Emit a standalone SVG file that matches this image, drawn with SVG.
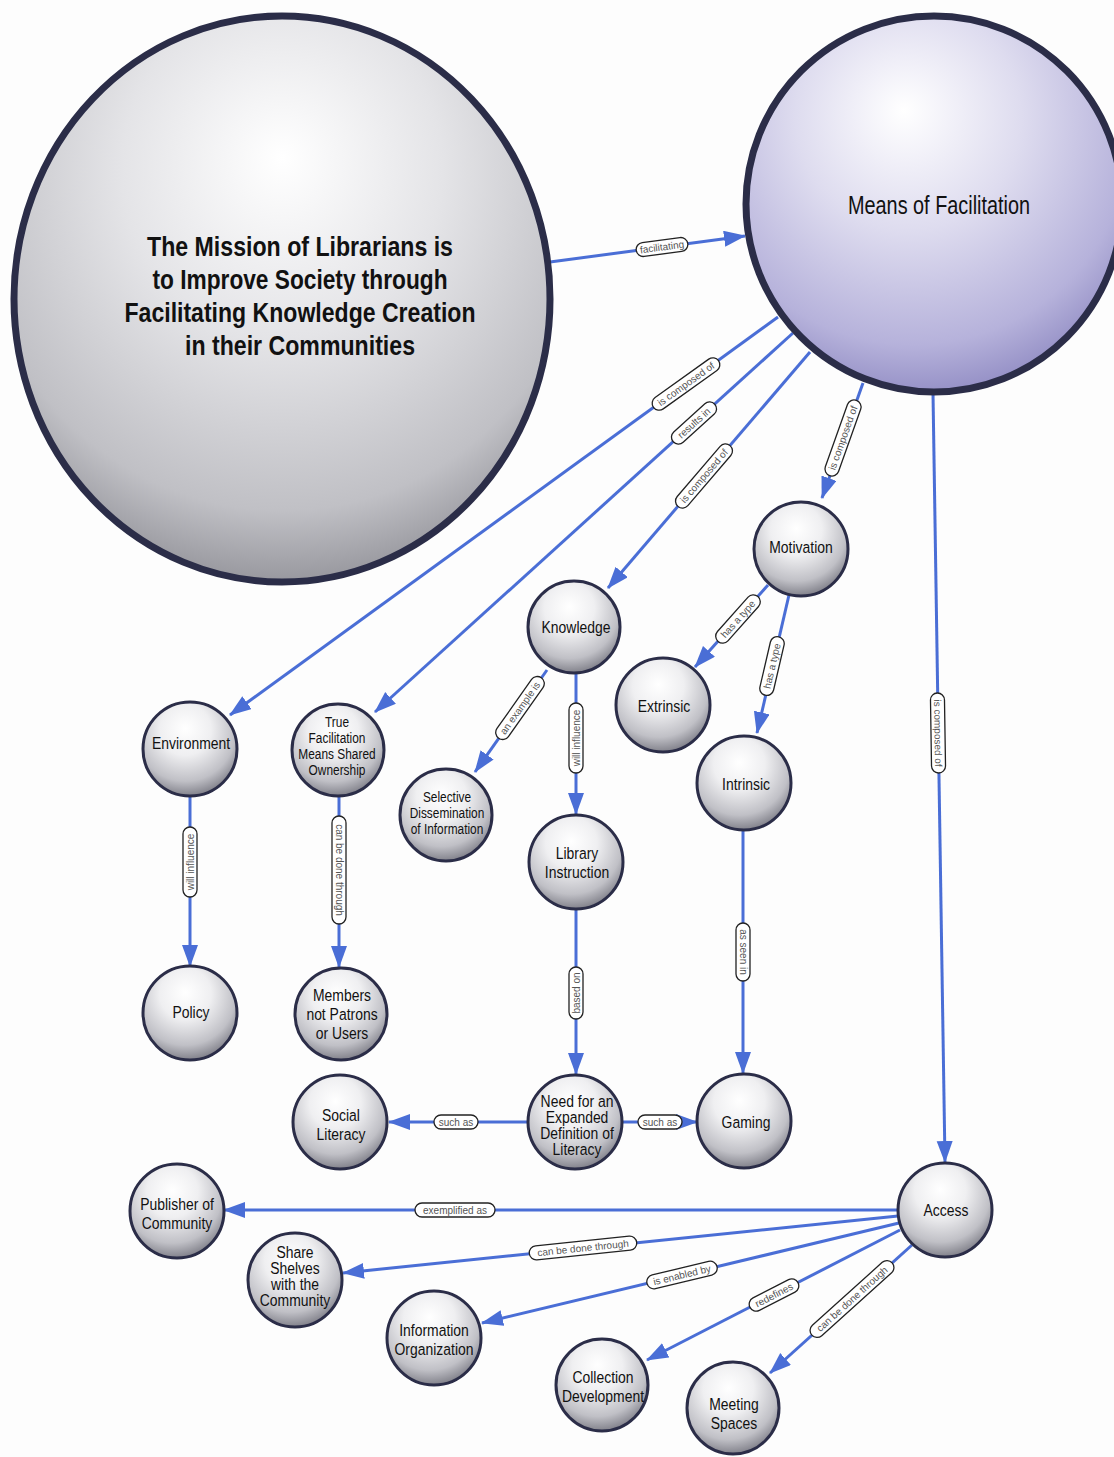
<svg xmlns="http://www.w3.org/2000/svg" width="1114" height="1457" viewBox="0 0 1114 1457">
<defs>
<radialGradient id="gNode" cx="0.45" cy="0.32" r="0.72" fx="0.45" fy="0.28">
<stop offset="0" stop-color="#ffffff"/>
<stop offset="0.38" stop-color="#efeff1"/>
<stop offset="0.74" stop-color="#c0c0c6"/>
<stop offset="1" stop-color="#72727c"/>
</radialGradient>
<radialGradient id="gMission" cx="0.5" cy="0.3" r="0.75" fx="0.5" fy="0.25">
<stop offset="0" stop-color="#ffffff"/>
<stop offset="0.4" stop-color="#e4e4e7"/>
<stop offset="0.78" stop-color="#c0c0c5"/>
<stop offset="1" stop-color="#88888f"/>
</radialGradient>
<radialGradient id="gMeans" cx="0.45" cy="0.3" r="0.75" fx="0.42" fy="0.25">
<stop offset="0" stop-color="#ffffff"/>
<stop offset="0.4" stop-color="#dedcef"/>
<stop offset="0.78" stop-color="#b6b2db"/>
<stop offset="1" stop-color="#8a85bf"/>
</radialGradient>
<marker id="arr" markerUnits="userSpaceOnUse" markerWidth="24" markerHeight="18" refX="21" refY="8" orient="auto">
<path d="M0,0 L22,8 L0,16 Z" fill="#4a6ed6"/>
</marker>
<style>
.edge{stroke:#4a6ed6;stroke-width:3;fill:none;marker-end:url(#arr)}
.node{fill:url(#gNode);stroke:#2b2d48;stroke-width:3}
.nt{font-family:"Liberation Sans",Arial,sans-serif;font-size:17px;fill:#111;text-anchor:middle;dominant-baseline:central}
.nts{font-size:14.5px}
.title{font-family:"Liberation Sans",Arial,sans-serif;font-size:27px;font-weight:bold;fill:#111;text-anchor:middle;dominant-baseline:central}
.means{font-family:"Liberation Sans",Arial,sans-serif;font-size:25px;fill:#111;text-anchor:middle;dominant-baseline:central}
.lb rect{fill:#fff;stroke:#222;stroke-width:1.3}
.lb text{font-family:"Liberation Sans",Arial,sans-serif;font-size:10px;fill:#555;text-anchor:middle;dominant-baseline:central}
</style>
</defs>
<rect width="1114" height="1457" fill="#fdfdfd"/>

<g id="connectors">
<line class="edge" x1="550" y1="262" x2="745" y2="236"/>
<line class="edge" x1="778" y1="317" x2="230" y2="715"/>
<line class="edge" x1="793" y1="333" x2="375" y2="712"/>
<line class="edge" x1="810" y1="352" x2="608" y2="588"/>
<line class="edge" x1="863" y1="383" x2="822" y2="498"/>
<line class="edge" x1="933" y1="393" x2="945" y2="1162"/>
<line class="edge" x1="768" y1="585" x2="695" y2="667"/>
<line class="edge" x1="789" y1="595" x2="757" y2="733"/>
<line class="edge" x1="547" y1="670" x2="475" y2="772"/>
<line class="edge" x1="576" y1="673" x2="576" y2="814"/>
<line class="edge" x1="190" y1="795" x2="190" y2="966"/>
<line class="edge" x1="339" y1="795" x2="339" y2="967"/>
<line class="edge" x1="576" y1="910" x2="576" y2="1074"/>
<line class="edge" x1="743" y1="830" x2="743" y2="1073"/>
<line class="edge" x1="527" y1="1122" x2="389" y2="1122"/>
<line class="edge" x1="623" y1="1122" x2="697" y2="1122"/>
<line class="edge" x1="898" y1="1210" x2="224" y2="1210"/>
<line class="edge" x1="898" y1="1216" x2="343" y2="1273"/>
<line class="edge" x1="899" y1="1223" x2="482" y2="1323"/>
<line class="edge" x1="900" y1="1230" x2="647" y2="1360"/>
<line class="edge" x1="912" y1="1245" x2="770" y2="1373"/>

<g class="lb" transform="translate(662,247) rotate(-7.6)"><rect x="-26" y="-7" width="52" height="14" rx="7"/><text>facilitating</text></g>
<g class="lb" transform="translate(686,384) rotate(-35.6)"><rect x="-40" y="-7" width="80" height="14" rx="7"/><text>is composed of</text></g>
<g class="lb" transform="translate(694,423) rotate(-42.2)"><rect x="-28" y="-7" width="56" height="14" rx="7"/><text>results in</text></g>
<g class="lb" transform="translate(704,476) rotate(-49.4)"><rect x="-40" y="-7" width="80" height="14" rx="7"/><text>is composed of</text></g>
<g class="lb" transform="translate(843,438) rotate(-70.4)"><rect x="-40" y="-7" width="80" height="14" rx="7"/><text>is composed of</text></g>
<g class="lb" transform="translate(938,733) rotate(89.1)"><rect x="-40" y="-7" width="80" height="14" rx="7"/><text>is composed of</text></g>
<g class="lb" transform="translate(738,619) rotate(-48.3)"><rect x="-30" y="-7" width="60" height="14" rx="7"/><text>has a type</text></g>
<g class="lb" transform="translate(772,666) rotate(-76.9)"><rect x="-30" y="-7" width="60" height="14" rx="7"/><text>has a type</text></g>
<g class="lb" transform="translate(520,708) rotate(-54.8)"><rect x="-37" y="-7" width="74" height="14" rx="7"/><text>an example is</text></g>
<g class="lb" transform="translate(576,738) rotate(-90)"><rect x="-35" y="-7" width="70" height="14" rx="7"/><text>will influence</text></g>
<g class="lb" transform="translate(190,862) rotate(-90)"><rect x="-35" y="-7" width="70" height="14" rx="7"/><text>will influence</text></g>
<g class="lb" transform="translate(339,870) rotate(90)"><rect x="-54" y="-7" width="108" height="14" rx="7"/><text>can be done through</text></g>
<g class="lb" transform="translate(576,993) rotate(-90)"><rect x="-26" y="-7" width="52" height="14" rx="7"/><text>based on</text></g>
<g class="lb" transform="translate(743,952) rotate(90)"><rect x="-29" y="-7" width="58" height="14" rx="7"/><text>as seen in</text></g>
<g class="lb" transform="translate(456,1122)"><rect x="-22" y="-7" width="44" height="14" rx="7"/><text>such as</text></g>
<g class="lb" transform="translate(660,1122)"><rect x="-22" y="-7" width="44" height="14" rx="7"/><text>such as</text></g>
<g class="lb" transform="translate(455,1210)"><rect x="-40" y="-7" width="80" height="14" rx="7"/><text>exemplified as</text></g>
<g class="lb" transform="translate(583,1248) rotate(-5.9)"><rect x="-54" y="-7" width="108" height="14" rx="7"/><text>can be done through</text></g>
<g class="lb" transform="translate(682,1275) rotate(-13.5)"><rect x="-36" y="-7" width="72" height="14" rx="7"/><text>is enabled by</text></g>
<g class="lb" transform="translate(774,1295) rotate(-27.2)"><rect x="-27" y="-7" width="54" height="14" rx="7"/><text>redefines</text></g>
<g class="lb" transform="translate(852,1299) rotate(-42)"><rect x="-54" y="-7" width="108" height="14" rx="7"/><text>can be done through</text></g>
</g>

<g id="n-mission">
<ellipse cx="282" cy="299" rx="268" ry="283" fill="url(#gMission)" stroke="#2b2d48" stroke-width="7"/>
<text class="title" x="300" y="247" textLength="306" lengthAdjust="spacingAndGlyphs">The Mission of Librarians is</text>
<text class="title" x="300" y="280" textLength="295" lengthAdjust="spacingAndGlyphs">to Improve Society through</text>
<text class="title" x="300" y="313" textLength="351" lengthAdjust="spacingAndGlyphs">Facilitating Knowledge Creation</text>
<text class="title" x="300" y="346" textLength="230" lengthAdjust="spacingAndGlyphs">in their Communities</text>
</g>
<g id="n-means">
<circle cx="934" cy="204" r="188" fill="url(#gMeans)" stroke="#2b2d48" stroke-width="7"/>
<text class="means" x="939" y="205" textLength="182" lengthAdjust="spacingAndGlyphs">Means of Facilitation</text>
</g>
<g id="n-motivation"><circle class="node" cx="801" cy="549" r="47"/><text class="nt" transform="translate(801,547) scale(0.82,1)">Motivation</text></g>
<g id="n-knowledge"><circle class="node" cx="574" cy="627" r="46"/><text class="nt" transform="translate(576,627) scale(0.82,1)">Knowledge</text></g>
<g id="n-extrinsic"><circle class="node" cx="663" cy="705" r="47"/><text class="nt" transform="translate(664,706) scale(0.82,1)">Extrinsic</text></g>
<g id="n-intrinsic"><circle class="node" cx="744" cy="783" r="47"/><text class="nt" transform="translate(746,784) scale(0.82,1)">Intrinsic</text></g>
<g id="n-environment"><circle class="node" cx="190" cy="749" r="47"/><text class="nt" transform="translate(191,743) scale(0.82,1)">Environment</text></g>
<g id="n-truefac"><circle class="node" cx="338" cy="750" r="46"/>
<text class="nt nts" transform="translate(337,746) scale(0.82,1)"><tspan x="0" y="-24">True</tspan><tspan x="0" y="-8">Facilitation</tspan><tspan x="0" y="8">Means Shared</tspan><tspan x="0" y="24">Ownership</tspan></text></g>
<g id="n-selective"><circle class="node" cx="446" cy="815" r="46"/>
<text class="nt nts" transform="translate(447,813) scale(0.82,1)"><tspan x="0" y="-16">Selective</tspan><tspan x="0" y="0">Dissemination</tspan><tspan x="0" y="16">of Information</tspan></text></g>
<g id="n-policy"><circle class="node" cx="190" cy="1013" r="47"/><text class="nt" transform="translate(191,1012) scale(0.82,1)">Policy</text></g>
<g id="n-members"><circle class="node" cx="341" cy="1014" r="46"/>
<text class="nt" transform="translate(342,1013) scale(0.82,1)"><tspan x="0" y="-19">Members</tspan><tspan x="0" y="0">not Patrons</tspan><tspan x="0" y="19">or Users</tspan></text></g>
<g id="n-library"><circle class="node" cx="576" cy="862" r="47"/>
<text class="nt" transform="translate(577,862) scale(0.82,1)"><tspan x="0" y="-9.5">Library</tspan><tspan x="0" y="9.5">Instruction</tspan></text></g>
<g id="n-need"><circle class="node" cx="575" cy="1122" r="47"/>
<text class="nt" transform="translate(577,1124) scale(0.82,1)"><tspan x="0" y="-24">Need for an</tspan><tspan x="0" y="-8">Expanded</tspan><tspan x="0" y="8">Definition of</tspan><tspan x="0" y="24">Literacy</tspan></text></g>
<g id="n-gaming"><circle class="node" cx="744" cy="1121" r="47"/><text class="nt" transform="translate(746,1122) scale(0.82,1)">Gaming</text></g>
<g id="n-social"><circle class="node" cx="340" cy="1122" r="47"/>
<text class="nt" transform="translate(341,1123.5) scale(0.82,1)"><tspan x="0" y="-9.5">Social</tspan><tspan x="0" y="9.5">Literacy</tspan></text></g>
<g id="n-access"><circle class="node" cx="945" cy="1210" r="47"/><text class="nt" transform="translate(946,1210) scale(0.82,1)">Access</text></g>
<g id="n-publisher"><circle class="node" cx="177" cy="1211" r="47"/>
<text class="nt" transform="translate(177,1212.5) scale(0.82,1)"><tspan x="0" y="-9.5">Publisher of</tspan><tspan x="0" y="9.5">Community</tspan></text></g>
<g id="n-share"><circle class="node" cx="295" cy="1280" r="47"/>
<text class="nt" transform="translate(295,1275) scale(0.82,1)"><tspan x="0" y="-24">Share</tspan><tspan x="0" y="-8">Shelves</tspan><tspan x="0" y="8">with the</tspan><tspan x="0" y="24">Community</tspan></text></g>
<g id="n-infoorg"><circle class="node" cx="434" cy="1338" r="47"/>
<text class="nt" transform="translate(434,1338.5) scale(0.82,1)"><tspan x="0" y="-9.5">Information</tspan><tspan x="0" y="9.5">Organization</tspan></text></g>
<g id="n-collection"><circle class="node" cx="602" cy="1385" r="46"/>
<text class="nt" transform="translate(603,1385.5) scale(0.82,1)"><tspan x="0" y="-9.5">Collection</tspan><tspan x="0" y="9.5">Development</tspan></text></g>
<g id="n-meeting"><circle class="node" cx="733" cy="1408" r="46"/>
<text class="nt" transform="translate(734,1412.5) scale(0.82,1)"><tspan x="0" y="-9.5">Meeting</tspan><tspan x="0" y="9.5">Spaces</tspan></text></g>
</svg>
